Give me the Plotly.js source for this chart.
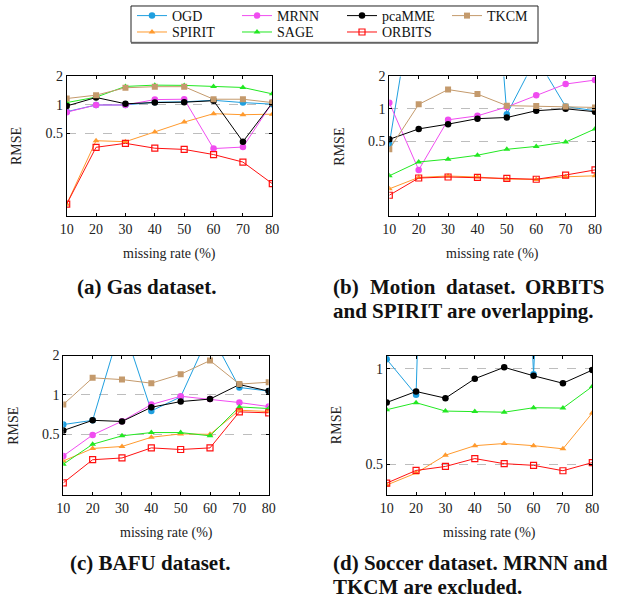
<!DOCTYPE html>
<html>
<head>
<meta charset="utf-8">
<script src="https://cdn.plot.ly/plotly-3.0.1.min.js"></script>
<style>html,body{margin:0;padding:0;background:#fff;}#chart{width:617px;height:603px;}</style>
</head>
<body>
<div id="chart"></div>
<script>
// ---- data ----
const missingRate = [10, 20, 30, 40, 50, 60, 70, 80];
const xTickLabels = ["10", "20", "30", "40", "50", "60", "70", "80"];

// (a) Gas
const gasOGD    = [0.85, 1.0, 1.0, 1.07, 1.08, 1.12, 1.06, 1.02];
const gasSPIRIT = [0.09, 0.42, 0.41, 0.52, 0.66, 0.81, 0.79, 0.80];
const gasMRNN   = [0.84, 1.0, 1.0, 1.14, 1.15, 0.347, 0.36, 1.06];
const gasSAGE   = [1.06, 1.21, 1.57, 1.62, 1.61, 1.57, 1.53, 1.31];
const gasPcaMME = [0.976, 1.2, 1.03, 1.06, 1.07, 1.11, 0.41, 1.05];
const gasORBITS = [0.09, 0.358, 0.394, 0.35, 0.34, 0.30, 0.25, 0.148];
const gasTKCM   = [1.17, 1.27, 1.52, 1.56, 1.56, 1.15, 1.15, 1.06];

// (b) Motion
const motionOGD    = [0.47, 22, 250, 2800, 0.89, 3.0, 1.05, 0.96];
const motionSPIRIT = [0.18, 0.23, 0.237, 0.232, 0.222, 0.22, 0.233, 0.238];
const motionMRNN   = [1.14, 0.27, 0.79, 0.86, 1.04, 1.34, 1.70, 1.85];
const motionSAGE   = [0.238, 0.32, 0.34, 0.37, 0.42, 0.447, 0.49, 0.65];
const motionPcaMME = [0.52, 0.65, 0.72, 0.81, 0.83, 0.96, 1.0, 0.94];
const motionORBITS = [0.157, 0.227, 0.232, 0.23, 0.225, 0.221, 0.242, 0.27];
const motionTKCM   = [0.42, 1.10, 1.51, 1.37, 1.07, 1.06, 1.05, 1.03];

// (c) BAFU
const bafuOGD    = [0.594, 0.64, 3.6, 0.755, 0.966, 3.0, 1.14, 1.07];
const bafuSPIRIT = [0.313, 0.39, 0.404, 0.475, 0.504, 0.5, 0.764, 0.747];
const bafuMRNN   = [0.342, 0.495, 0.63, 0.845, 0.977, 0.93, 0.875, 0.815];
const bafuSAGE   = [0.296, 0.42, 0.487, 0.516, 0.516, 0.487, 0.81, 0.787];
const bafuPcaMME = [0.535, 0.64, 0.627, 0.805, 0.89, 0.93, 1.2, 1.07];
const bafuORBITS = [0.213, 0.32, 0.33, 0.394, 0.383, 0.394, 0.742, 0.73];
const bafuTKCM   = [0.845, 1.35, 1.31, 1.23, 1.44, 1.83, 1.21, 1.25];

// (d) Soccer (MRNN and TKCM excluded)
const soccerOGD    = [1.07, 0.828, 1000, 1000, 100, 0.96, 100, 100];
const soccerSPIRIT = [0.431, 0.47, 0.535, 0.573, 0.582, 0.573, 0.56, 0.726];
const soccerSAGE   = [0.743, 0.782, 0.736, 0.734, 0.73, 0.754, 0.752, 0.879];
const soccerPcaMME = [0.783, 0.848, 0.808, 0.93, 1.01, 0.95, 0.90, 0.99];
const soccerORBITS = [0.437, 0.479, 0.493, 0.522, 0.503, 0.497, 0.478, 0.507];

const yTicksA = [0.5, 1, 2], yTickTextA = ["0.5", "1", "2"];
const yTicksD = [0.5, 1], yTickTextD = ["0.5", "1"];

// ---- styles ----
const W = 617, H = 603;
const FONT = "Liberation Serif";
const styles = {
  OGD:    {color: '#1f9fdf', symbol: 'circle', legend: 'legend'},
  SPIRIT: {color: '#ff9a2e', symbol: 'triangle-up', legend: 'legend2'},
  MRNN:   {color: '#f04cf0', symbol: 'circle', legend: 'legend'},
  SAGE:   {color: '#22e822', symbol: 'triangle-up', legend: 'legend2'},
  pcaMME: {color: '#000000', symbol: 'circle', legend: 'legend'},
  ORBITS: {color: '#ff1010', symbol: 'square-open', legend: 'legend2'},
  TKCM:   {color: '#c49a6c', symbol: 'square', legend: 'legend'}
};

const panels = [
  {ax: '', series: {OGD: gasOGD, SPIRIT: gasSPIRIT, MRNN: gasMRNN, SAGE: gasSAGE, pcaMME: gasPcaMME, ORBITS: gasORBITS, TKCM: gasTKCM}},
  {ax: '2', series: {OGD: motionOGD, SPIRIT: motionSPIRIT, MRNN: motionMRNN, SAGE: motionSAGE, pcaMME: motionPcaMME, ORBITS: motionORBITS, TKCM: motionTKCM}},
  {ax: '3', series: {OGD: bafuOGD, SPIRIT: bafuSPIRIT, MRNN: bafuMRNN, SAGE: bafuSAGE, pcaMME: bafuPcaMME, ORBITS: bafuORBITS, TKCM: bafuTKCM}},
  {ax: '4', series: {OGD: soccerOGD, SPIRIT: soccerSPIRIT, SAGE: soccerSAGE, pcaMME: soccerPcaMME, ORBITS: soccerORBITS}}
];

const traces = [];
panels.forEach((p, i) => {
  Object.keys(p.series).forEach(name => {
    const s = styles[name];
    traces.push({
      type: 'scatter', mode: 'lines+markers',
      x: missingRate, y: p.series[name], name: name,
      xaxis: 'x' + p.ax, yaxis: 'y' + p.ax,
      legendgroup: name, showlegend: i === 0, legend: s.legend,
      line: {color: s.color, width: 1},
      marker: {color: s.color, symbol: s.symbol, size: s.symbol === 'circle' ? 6.5 : 6,
               line: {color: s.color, width: s.symbol === 'square-open' ? 1.2 : 0}}
    });
  });
});

const px = v => v / W;
const py = v => 1 - v / H;

function xax(domain, anchor) {
  return {domain: domain, anchor: anchor, range: [10, 80], tickvals: missingRate, ticktext: xTickLabels,
    showline: true, linecolor: '#000', linewidth: 1, mirror: 'ticks', ticks: 'inside', ticklen: 3,
    tickcolor: '#000', showgrid: false, zeroline: false, fixedrange: true,
    tickfont: {family: FONT, size: 14, color: '#222'}};
}
function yax(domain, anchor, lo, hi, tv, tt) {
  return {domain: domain, anchor: anchor, type: 'log', range: [Math.log10(lo), Math.log10(hi)],
    tickvals: tv, ticktext: tt, showline: true, linecolor: '#000', linewidth: 1, mirror: 'ticks',
    ticks: 'inside', ticklen: 3, tickcolor: '#000', showgrid: true, gridcolor: '#bdbdbd',
    griddash: 'dash', gridwidth: 1, zeroline: false, fixedrange: true,
    tickfont: {family: FONT, size: 14, color: '#222'}};
}

const domA = {x: [px(66.7), px(272.3)], y: [py(215), py(74.7)]};
const domB = {x: [px(389.3), px(595)], y: [py(215), py(74.7)]};
const domC = {x: [px(63.3), px(268.7)], y: [py(495), py(354.7)]};
const domD = {x: [px(386.7), px(592.3)], y: [py(495), py(354.7)]};

const annotations = [];
[['x', 'y'], ['x2', 'y2'], ['x3', 'y3'], ['x4', 'y4']].forEach(([xa, ya]) => {
  annotations.push({xref: xa + ' domain', yref: ya + ' domain', x: 0, y: 0.5, xshift: -50,
    text: 'RMSE', textangle: -90, showarrow: false, xanchor: 'center', yanchor: 'middle',
    font: {family: FONT, size: 14, color: '#222'}});
  annotations.push({xref: xa + ' domain', yref: ya + ' domain', x: 0.5, y: 0, yshift: -37.7,
    text: 'missing rate (%)', showarrow: false, xanchor: 'center', yanchor: 'middle',
    font: {family: FONT, size: 14, color: '#222'}});
});
const capFont = {family: FONT, size: 21, color: '#111', weight: 'bold'};
function cap(text, x, y, anchor) {
  annotations.push({xref: 'paper', yref: 'paper', x: px(x), y: py(y), text: '<b>' + text + '</b>',
    showarrow: false, xanchor: anchor, yanchor: 'middle', font: capFont});
}
cap('(a) Gas dataset.', 146.5, 286, 'center');
cap('(b)', 331, 286, 'left');
cap('Motion', 403, 286, 'center');
cap('dataset.', 481, 286, 'center');
cap('ORBITS', 606, 286, 'right');
cap('and SPIRIT are overlapping.', 331, 310, 'left');
cap('(c) BAFU dataset.', 149.5, 563, 'center');
cap('(d) Soccer dataset. MRNN and', 331, 563, 'left');
cap('TKCM are excluded.', 331, 587, 'left');

const legendBase = {orientation: 'h', xanchor: 'left', yanchor: 'middle', entrywidth: 60,
  entrywidthmode: 'pixels', bgcolor: 'rgba(0,0,0,0)', borderwidth: 0,
  font: {family: FONT, size: 14, color: '#111'}, itemclick: false, itemdoubleclick: false};

const layout = {
  width: W, height: H, margin: {l: 0, r: 0, t: 0, b: 0},
  paper_bgcolor: '#fff', plot_bgcolor: '#fff', showlegend: true,
  font: {family: FONT},
  legend: Object.assign({}, legendBase, {x: px(132), y: py(14)}),
  legend2: Object.assign({}, legendBase, {x: px(132), y: py(30.5)}),
  xaxis: xax(domA.x, 'y'), yaxis: yax(domA.y, 'x', 0.067, 2, yTicksA, yTickTextA),
  xaxis2: xax(domB.x, 'y2'), yaxis2: yax(domB.y, 'x2', 0.1, 2, yTicksA, yTickTextA),
  xaxis3: xax(domC.x, 'y3'), yaxis3: yax(domC.y, 'x3', 0.171, 2, yTicksA, yTickTextA),
  xaxis4: xax(domD.x, 'y4'), yaxis4: yax(domD.y, 'x4', 0.4, 1.1, yTicksD, yTickTextD),
  annotations: annotations,
  shapes: [
    {type: 'rect', xref: 'paper', yref: 'paper', x0: px(131), x1: px(538), y0: py(40.5), y1: py(4),
     line: {color: '#222', width: 1}},
    {type: 'line', xref: 'paper', yref: 'paper', x0: px(131), x1: px(538), y0: py(41.5), y1: py(41.5),
     line: {color: '#888', width: 1.5}}
  ]
};

Plotly.newPlot('chart', traces, layout, {displayModeBar: false, staticPlot: true});
</script>
</body>
</html>
